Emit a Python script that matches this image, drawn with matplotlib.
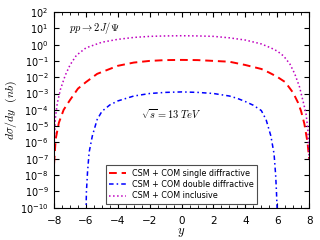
import numpy as np
import matplotlib
matplotlib.use('Agg')
import matplotlib.pyplot as plt
from matplotlib.ticker import MultipleLocator, NullLocator, LogLocator

# rapidity points and d sigma/dy (nb)
y_incl = [-8.0, -7.92, -7.8, -7.6, -7.3, -7.0, -6.6, -6.0, -5.0, -4.0, -3.0, -2.0, -1.0, 0.0,
          1.0, 2.0, 3.0, 4.0, 5.0, 5.6, 6.0, 6.4, 6.8, 7.1, 7.4, 7.6, 7.8, 7.92, 8.0]
ds_incl = [6e-7, 3e-5, 2.5e-4, 1.8e-3, 1.3e-2, 5.6e-2, 0.22, 0.63, 1.4, 2.1, 2.75, 3.2, 3.4, 3.5,
           3.4, 3.2, 2.6, 1.9, 1.1, 0.63, 0.4, 0.2, 0.063, 0.016, 2.5e-3, 4e-4, 6.3e-5, 6.3e-6, 1e-7]

y_single = [-8.0, -7.9, -7.7, -7.4, -7.0, -6.5, -6.0, -5.3, -4.0, -3.0, -2.0, -1.0, 0.0,
            1.0, 2.0, 3.0, 4.0, 5.0, 5.5, 6.0, 6.5, 7.0, 7.3, 7.5, 7.7, 7.9, 8.0]
ds_single = [5e-8, 1.6e-6, 1.6e-5, 1e-4, 4e-4, 2e-3, 5e-3, 1.6e-2, 5e-2, 7.9e-2, 0.1, 0.112, 0.115,
             0.112, 0.1, 0.089, 0.056, 0.032, 0.019, 0.0105, 5e-3, 1.1e-3, 2.8e-4, 8e-5, 1.4e-5, 1e-6, 1e-7]

y_double = [-6.0, -5.97, -5.9, -5.8, -5.6, -5.3, -5.0, -4.5, -4.0, -3.0, -2.0, -1.0, 0.0,
            1.0, 2.0, 3.0, 3.5, 4.0, 4.5, 5.0, 5.3, 5.6, 5.8, 5.9, 5.95, 6.0]
ds_double = [5e-11, 1e-9, 1.6e-8, 2.5e-7, 2.5e-6, 2.5e-5, 8e-5, 2e-4, 3.5e-4, 7e-4, 1e-3, 1.17e-3, 1.25e-3,
             1.17e-3, 1e-3, 7e-4, 5e-4, 3.2e-4, 1.9e-4, 9e-5, 2.5e-5, 2.5e-6, 2e-7, 1e-8, 1e-9, 5e-11]

labels = ['CSM + COM single diffractive', 'CSM + COM double diffractive', 'CSM + COM inclusive']

fig = plt.figure(figsize=(3.2, 2.4), dpi=100)
ax = fig.add_axes([0.169, 0.135, 0.797, 0.815])

ax.semilogy(y_single, ds_single, color='r', linestyle=(0, (4, 2.5)), lw=1.4, label=labels[0])
ax.semilogy(y_double, ds_double, color='b', linestyle=(0, (3, 2, 1, 2)), lw=1.1, label=labels[1])
ax.semilogy(y_incl, ds_incl, color='m', linestyle=':', lw=1.1, label=labels[2])

ax.set_xlim(-8, 8)
ax.set_ylim(1e-10, 1e2)
ax.xaxis.set_major_locator(MultipleLocator(2))
ax.xaxis.set_minor_locator(MultipleLocator(0.5))
ax.yaxis.set_major_locator(LogLocator(base=10, numticks=20))
ax.yaxis.set_minor_locator(NullLocator())
ax.tick_params(which='both', direction='in', top=True, right=True)
ax.tick_params(axis='x', labelsize=7.5, pad=6)
ax.tick_params(axis='y', labelsize=7, pad=4)
ax.tick_params(which='major', length=3.5)
ax.tick_params(which='minor', length=2)

ax.set_xlabel('$y$', fontsize=9, labelpad=0, math_fontfamily='cm')
ax.set_ylabel(r'$d\sigma/dy\ \ (nb)$', fontsize=8.5, labelpad=1, math_fontfamily='cm')

ax.text(0.06, 0.96, r'$pp \rightarrow 2J/\Psi$', transform=ax.transAxes, fontsize=7.5, va='top',
        math_fontfamily='cm')
ax.text(0.34, 0.455, r'$\sqrt{s} = 13\ TeV$', transform=ax.transAxes, fontsize=7.5,
        math_fontfamily='cm')

leg = ax.legend(loc='lower center', bbox_to_anchor=(0.5, 0.0), fontsize=5.8, fancybox=False,
                edgecolor='0.3', framealpha=1, handlelength=2, borderpad=0.4, labelspacing=0.3)
leg.get_frame().set_linewidth(0.8)

fig.savefig('out.png', dpi=100)
plt.close(fig)
